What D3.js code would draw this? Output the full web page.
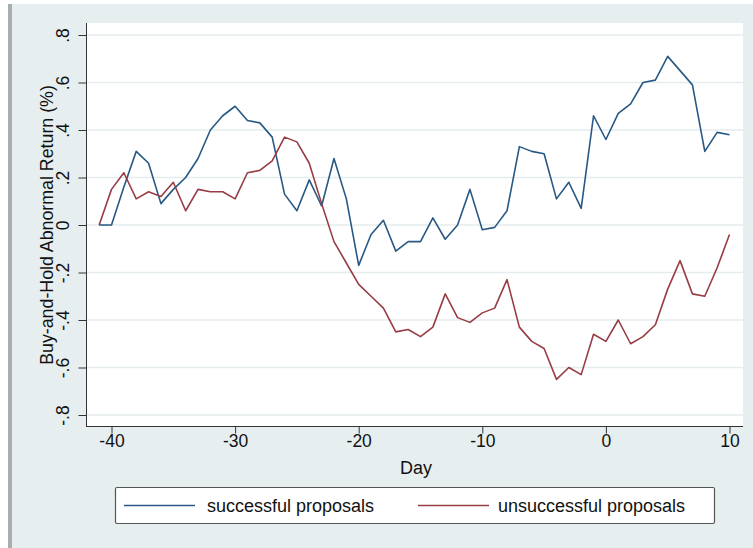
<!DOCTYPE html>
<html>
<head>
<meta charset="utf-8">
<script src="https://cdn.jsdelivr.net/npm/d3@7"></script>
<style>
  html, body { margin: 0; padding: 0; background: #ffffff; }
  svg { display: block; }
  text { font-family: "Liberation Sans", Arial, Helvetica, sans-serif; fill: #111; }
</style>
</head>
<body>
<svg id="chart" width="753" height="548"></svg>
<script>
// Event days relative to the announcement
const days = [-41, -40, -39, -38, -37, -36, -35, -34, -33, -32, -31, -30, -29, -28, -27, -26,
  -25, -24, -23, -22, -21, -20, -19, -18, -17, -16, -15, -14, -13, -12, -11, -10,
  -9, -8, -7, -6, -5, -4, -3, -2, -1, 0, 1, 2, 3, 4, 5, 6, 7, 8, 9, 10];

// Buy-and-hold abnormal returns (%)
const successful = [0, 0, 0.16, 0.31, 0.26, 0.09, 0.15, 0.20, 0.28, 0.40, 0.46, 0.50, 0.44, 0.43, 0.37, 0.13,
  0.06, 0.19, 0.08, 0.28, 0.11, -0.17, -0.04, 0.02, -0.11, -0.07, -0.07, 0.03, -0.06, 0.00, 0.15, -0.02,
  -0.01, 0.06, 0.33, 0.31, 0.30, 0.11, 0.18, 0.07, 0.46, 0.36, 0.47, 0.51, 0.60, 0.61, 0.71, 0.65, 0.59, 0.31, 0.39, 0.38];

const unsuccessful = [0, 0.15, 0.22, 0.11, 0.14, 0.12, 0.18, 0.06, 0.15, 0.14, 0.14, 0.11, 0.22, 0.23, 0.27, 0.37,
  0.35, 0.26, 0.09, -0.07, -0.16, -0.25, -0.30, -0.35, -0.45, -0.44, -0.47, -0.43, -0.29, -0.39, -0.41, -0.37,
  -0.35, -0.23, -0.43, -0.49, -0.52, -0.65, -0.60, -0.63, -0.46, -0.49, -0.40, -0.50, -0.47, -0.42, -0.27, -0.15, -0.29, -0.30, -0.18, -0.04];

const xTicks = [-40, -30, -20, -10, 0, 10];
const xTickLabels = ["-40", "-30", "-20", "-10", "0", "10"];
const yTicks = [0.8, 0.6, 0.4, 0.2, 0, -0.2, -0.4, -0.6, -0.8];
const yTickLabels = [".8", ".6", ".4", ".2", "0", "-.2", "-.4", "-.6", "-.8"];

const seriesNames = ["successful proposals", "unsuccessful proposals"];
const seriesColors = ["#285884", "#983c45"];

const svg = d3.select("#chart");
const W = 753, H = 548;
const plot = { left: 86, right: 743, top: 23, bottom: 426 };

const x = d3.scaleLinear().domain([-40, 10]).range([111.5, 729.5]);
const y = d3.scaleLinear().domain([-0.8, 0.8]).range([415, 35]);

// Graph region background with the thin frame on the left
svg.append("rect").attr("x", 0).attr("y", 0).attr("width", W).attr("height", H).attr("fill", "#ffffff");
svg.append("rect").attr("x", 8).attr("y", 4).attr("width", W - 8).attr("height", H - 4).attr("fill", "#e7eef0");
svg.append("rect").attr("x", 8).attr("y", 4).attr("width", 4).attr("height", H - 4).attr("fill", "#a8adb1");

// Plot region
svg.append("rect")
  .attr("x", plot.left).attr("y", plot.top)
  .attr("width", plot.right - plot.left).attr("height", plot.bottom - plot.top)
  .attr("fill", "#ffffff");

// Horizontal grid lines
svg.append("g").selectAll("line").data(yTicks).join("line")
  .attr("x1", plot.left).attr("x2", plot.right)
  .attr("y1", d => y(d)).attr("y2", d => y(d))
  .attr("stroke", "#e4ecee").attr("stroke-width", 1.5);

// Y axis
const yAxis = svg.append("g")
  .attr("transform", `translate(${plot.left + 0.5},0)`)
  .call(d3.axisLeft(y).tickValues(yTicks).tickSize(8).tickFormat((d, i) => yTickLabels[i]));
yAxis.select(".domain").remove();
yAxis.selectAll(".tick line").attr("stroke", "#333");
yAxis.selectAll(".tick text")
  .attr("x", null).attr("dy", null)
  .attr("text-anchor", "middle")
  .attr("transform", "translate(-18,0) rotate(-90)")
  .style("font-size", "17.5px")
  .style("font-family", "'Liberation Sans', Arial, sans-serif")
  .attr("fill", "#111");

// X axis
const xAxis = svg.append("g")
  .attr("transform", `translate(0,${plot.bottom + 0.5})`)
  .call(d3.axisBottom(x).tickValues(xTicks).tickSize(7).tickPadding(1).tickFormat((d, i) => xTickLabels[i]));
xAxis.select(".domain").remove();
xAxis.selectAll(".tick line").attr("stroke", "#333");
xAxis.selectAll(".tick text")
  .style("font-size", "17.5px")
  .style("font-family", "'Liberation Sans', Arial, sans-serif")
  .attr("fill", "#111");

// Axis lines
svg.append("line")
  .attr("x1", plot.left + 0.5).attr("x2", plot.left + 0.5)
  .attr("y1", plot.top).attr("y2", plot.bottom + 0.5)
  .attr("stroke", "#333").attr("stroke-width", 1);
svg.append("line")
  .attr("x1", plot.left).attr("x2", plot.right)
  .attr("y1", plot.bottom + 0.5).attr("y2", plot.bottom + 0.5)
  .attr("stroke", "#333").attr("stroke-width", 1);

// Series lines
const line = d3.line().x(d => x(d[0])).y(d => y(d[1]));
[successful, unsuccessful].forEach((vals, k) => {
  svg.append("path")
    .datum(days.map((d, i) => [d, vals[i]]))
    .attr("d", line)
    .attr("fill", "none")
    .attr("stroke", seriesColors[k])
    .attr("stroke-width", 1.6)
    .attr("stroke-linejoin", "round");
});

// Axis titles
svg.append("text")
  .attr("transform", "translate(53,225) rotate(-90)")
  .attr("text-anchor", "middle")
  .style("font-size", "17.8px")
  .text("Buy-and-Hold Abnormal Return (%)");
svg.append("text")
  .attr("x", 416).attr("y", 474)
  .attr("text-anchor", "middle")
  .style("font-size", "18px")
  .text("Day");

// Legend
const legend = svg.append("g");
legend.append("rect")
  .attr("x", 115.5).attr("y", 487.5).attr("width", 599).attr("height", 36)
  .attr("fill", "#ffffff").attr("stroke", "#555").attr("stroke-width", 1.2).attr("rx", 1.5);
const legendItems = [
  { lx: 124, tx: 207 },
  { lx: 418, tx: 498 }
];
legendItems.forEach((it, k) => {
  legend.append("line")
    .attr("x1", it.lx).attr("x2", it.lx + 71)
    .attr("y1", 505.5).attr("y2", 505.5)
    .attr("stroke", seriesColors[k]).attr("stroke-width", 1.6);
  legend.append("text")
    .attr("x", it.tx).attr("y", 511.5)
    .style("font-size", "18px")
    .text(seriesNames[k]);
});
</script>
</body>
</html>
